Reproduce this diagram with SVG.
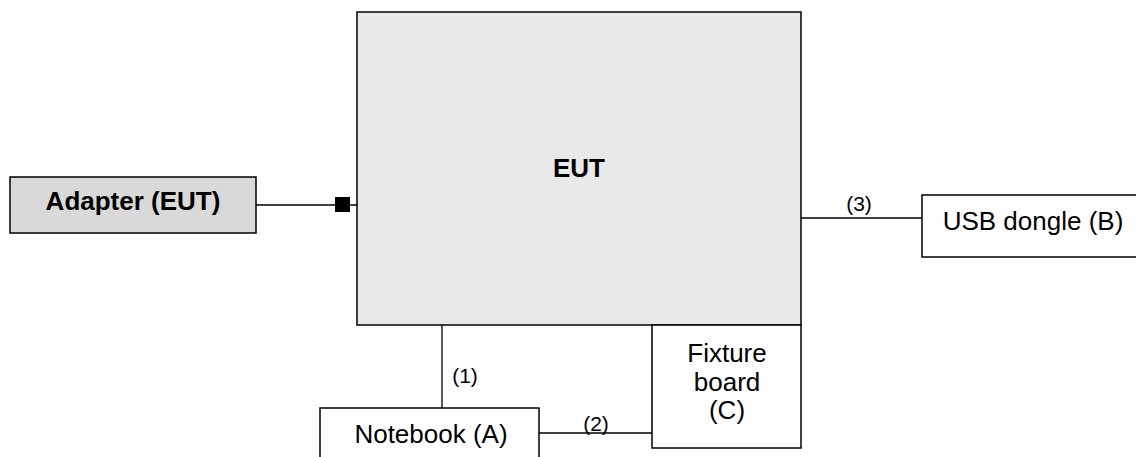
<svg xmlns="http://www.w3.org/2000/svg" width="1136" height="457" viewBox="0 0 1136 457">
<style>
.box{stroke:#000;stroke-width:1.5}
.t{font-family:"Liberation Sans",Arial,sans-serif;font-size:26px;fill:#000;text-anchor:middle}
.b{font-weight:bold}
.l{font-family:"Liberation Sans",Arial,sans-serif;font-size:21px;fill:#000;text-anchor:middle}
.c{stroke:#000;stroke-width:1.3;fill:none}
</style>
<rect width="1136" height="457" fill="#fff"/>
<g id="connectors">
<line class="c" x1="256" y1="205" x2="357" y2="205"/>
<rect x="335" y="197" width="15" height="15" fill="#000"/>
<line class="c" x1="442" y1="325" x2="442" y2="408"/>
<text class="l" x="465" y="383">(1)</text>
<line class="c" x1="539" y1="433" x2="652" y2="433"/>
<text class="l" x="596" y="431">(2)</text>
<line class="c" x1="801" y1="218" x2="922" y2="218"/>
<text class="l" x="859" y="211">(3)</text>
</g>
<g id="eut">
<rect class="box" x="357" y="12" width="444" height="313" fill="#e9e9e9"/>
<text class="t b" x="579" y="177">EUT</text>
</g>
<g id="adapter">
<rect class="box" x="10" y="177" width="246" height="56" fill="#d9d9d9"/>
<text class="t b" x="133" y="210">Adapter (EUT)</text>
</g>
<g id="usb">
<rect class="box" x="922" y="195" width="216" height="62" fill="#fff"/>
<text class="t" x="1033" y="230">USB dongle (B)</text>
</g>
<g id="fixture">
<rect class="box" x="652" y="325" width="149" height="123" fill="#fff"/>
<text class="t" x="727" y="362">Fixture</text>
<text class="t" x="727" y="391">board</text>
<text class="t" x="727" y="419">(C)</text>
</g>
<g id="notebook">
<rect class="box" x="320" y="408" width="219" height="60" fill="#fff"/>
<text class="t" x="431" y="443">Notebook (A)</text>
</g>
</svg>
